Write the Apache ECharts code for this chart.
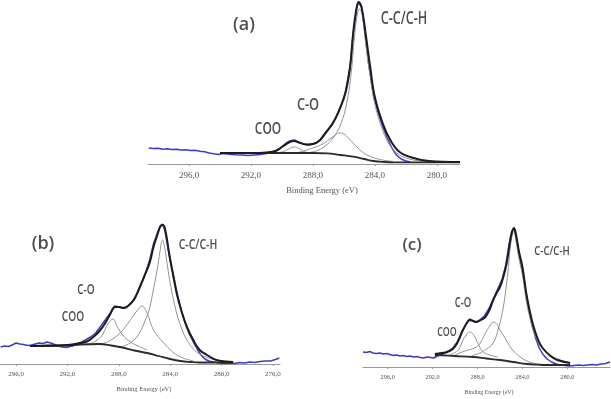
<!DOCTYPE html>
<html lang="en">
<head>
<meta charset="UTF-8">
<title>C1s XPS</title>
<script src="https://cdn.jsdelivr.net/npm/echarts@6/dist/echarts.min.js"></script>
</head>
<body style="margin:0;background:#fff">
<div id="chart" style="width:611px;height:399px"></div>
<script>
// binding energy (eV), intensity (a.u.)
var ticksA = [296, 292, 288, 284, 280];
var ticksB = [296, 292, 288, 284, 280, 276];
var ticksC = [296, 292, 288, 284, 280];

// ---- (a)
var rawA = [[298.6,16],[298.3,15.5],[298.0,15.8],[297.7,14.8],[297.4,15.2],[297.1,14.5],[296.8,14.8],[296.5,14],[296.2,14.3],[295.9,13.5],[295.6,13.8],[295.3,12.8],[295.0,12.2],[294.7,11],[294.4,10.2],[294.1,9.5],[293.8,10.5],[293.4,9.8],[293.0,9.2],[292.6,9],[292.2,8.5],[291.8,9],[291.4,9.5],[291.0,10.5],[290.6,12],[290.2,15],[289.8,20],[289.5,23],[289.2,24],[288.9,21.5],[288.6,20],[288.3,19],[288.0,20],[287.7,22],[287.4,26],[287.1,32],[286.8,39],[286.5,47],[286.2,57],[285.9,72],[285.6,97],[285.4,130],[285.2,154],[285.05,162],[284.85,157],[284.65,132],[284.4,100],[284.1,70],[283.8,52],[283.5,38],[283.2,26],[282.9,16],[282.6,9],[282.3,5],[282.0,3],[281.7,2]];
var envA = [[294.0,11],[293.0,11],[292.0,11],[291.0,11.5],[290.4,13],[289.9,18],[289.5,22],[289.2,23],[288.9,21.5],[288.4,19.5],[288.0,20],[287.6,23],[287.2,31],[286.7,41],[286.3,54],[285.9,71],[285.6,97],[285.4,131],[285.2,154],[285.05,162],[284.85,156],[284.6,131],[284.3,97],[284.0,67],[283.5,41],[283.0,24],[282.4,12],[281.5,6],[280.5,3],[278.5,2]];
var bgA = [[294.0,11],[290.0,11],[288.0,11],[287.1,10.7],[286.2,9],[285.4,7.3],[284.7,5],[284.1,3],[283.4,2],[282.8,1.7],[278.5,1.7]];
var cooA = [[290.4,11],[289.9,12.5],[289.5,15.5],[289.2,17],[288.9,15.5],[288.5,12],[288.0,11]];
var coA = [[289.0,11.5],[288.6,13],[288.0,16],[287.5,19],[286.9,25],[286.5,29.5],[286.3,31],[286.0,30],[285.7,26],[285.4,21],[284.8,12],[284.2,7],[283.5,4],[282.8,2.5]];
var ccA = [[288.5,11],[287.8,13],[287.2,18],[286.7,26],[286.2,40],[285.8,62],[285.5,95],[285.3,130],[285.1,152],[285.0,155],[284.8,148],[284.6,122],[284.3,88],[284.0,60],[283.5,34],[283.0,18],[282.4,9],[281.5,4],[280.5,2.5]];

// ---- (b)
var rawB = [[297.2,17],[296.9,18],[296.6,17.5],[296.3,19],[296.0,21],[295.7,20],[295.4,19.5],[295.1,18.5],[294.8,19],[294.5,20],[294.2,21],[293.9,20.5],[293.6,22],[293.3,21],[293.0,19.5],[292.7,18],[292.4,17],[292.1,16.5],[291.8,17.5],[291.5,18.5],[291.2,20],[290.9,22],[290.6,24],[290.2,27],[289.8,31],[289.4,38],[289.0,45],[288.6,52],[288.3,58],[288.0,57],[287.7,56],[287.4,57],[287.1,60],[286.8,64],[286.5,72],[286.2,82],[285.9,92],[285.6,104],[285.3,120],[285.0,131],[284.8,137],[284.6,140],[284.4,133],[284.2,118],[284.0,103],[283.7,86],[283.4,67],[283.1,52],[282.8,40],[282.5,30],[282.2,22],[281.9,15],[281.6,9],[281.3,5],[281.0,3],[280.6,2],[280.2,1],[279.8,0.5],[279.4,1],[279.0,0.5],[278.6,1.5],[278.2,1],[277.8,2],[277.4,1.5],[277.0,2.5],[276.6,3],[276.2,3],[275.8,4.5],[275.5,6]];
var envB = [[294.9,18],[293.5,18.5],[292.0,19],[291.0,21],[290.4,23],[289.9,28],[289.5,33],[289.1,40],[288.7,49],[288.3,57],[288.0,57],[287.6,56],[287.2,59],[286.8,65],[286.4,76],[286.0,88],[285.6,101],[285.3,117],[285.0,129],[284.75,138],[284.55,139],[284.35,132],[284.1,112],[283.8,91],[283.5,71],[283.1,52],[282.7,37],[282.2,24],[281.7,14],[281.0,8],[280.4,4],[279.7,2.5],[279.1,2]];
var bgB = [[294.9,18],[292.0,18.5],[291.0,19.5],[289.5,20],[288.6,18.5],[287.7,16.5],[286.8,13.5],[285.8,11],[284.9,8],[284.0,5],[283.2,3],[282.4,2],[281.7,1.5],[279.1,1.5]];
var cooB = [[290.3,20],[289.8,23],[289.4,27],[289.2,31],[288.8,41],[288.45,45],[288.1,37],[287.7,29],[287.1,22],[286.5,18],[285.8,14]];
var coB = [[289.5,20],[288.9,22],[287.9,31],[287.1,44],[286.6,53],[286.2,58],[285.8,51],[285.3,34],[284.5,21],[283.8,12],[283.2,7],[282.2,3]];
var ccB = [[287.8,17],[287.0,22],[286.4,31],[285.9,45],[285.6,56],[285.3,75],[285.0,95],[284.8,112],[284.6,124],[284.45,118],[284.2,97],[284.0,81],[283.5,51],[283.0,32],[282.7,24],[282.2,15],[281.7,10],[281.0,6],[280.4,4],[279.1,2]];

// ---- (c)
var rawC = [[298.2,15],[297.9,14.5],[297.6,15.5],[297.3,14],[297.0,13.5],[296.7,14],[296.4,13],[296.1,13.5],[295.8,12.5],[295.5,11.5],[295.2,12],[294.9,11],[294.6,11.5],[294.3,10.5],[294.0,11],[293.7,10],[293.4,10.5],[293.1,9.5],[292.8,9],[292.5,10],[292.2,9.5],[291.9,9],[291.6,11],[291.3,12],[291.0,13.5],[290.6,16],[290.2,19],[289.8,25],[289.4,35],[289.0,43],[288.7,48],[288.4,46],[288.1,45],[287.8,47],[287.4,51],[287.0,58],[286.6,68],[286.2,78],[285.8,88],[285.5,101],[285.2,122],[284.95,136],[284.75,138],[284.55,130],[284.3,112],[284.0,96],[283.7,75],[283.4,56],[283.1,40],[282.8,28],[282.5,19],[282.2,13],[281.8,8],[281.4,5],[281.0,3],[280.6,2],[280.2,1.5],[279.8,1],[279.4,1.5],[279.0,2],[278.6,1.5],[278.2,2],[277.8,2.5],[277.4,2],[277.0,3],[276.6,3.5],[276.2,5]];
var envC = [[291.8,13],[291.2,14],[290.7,15],[290.2,18],[289.8,24],[289.3,37],[288.9,45],[288.7,47],[288.4,46],[288.1,45],[287.7,47],[287.3,50],[286.9,58],[286.6,67],[286.3,74],[286.0,80],[285.7,90],[285.4,104],[285.15,122],[284.95,134],[284.75,139],[284.55,131],[284.3,115],[284.0,100],[283.6,70],[283.1,44],[282.6,27],[282.2,19],[281.5,11],[280.9,7],[279.75,4]];
var bgC = [[291.8,12],[290.0,11],[288.4,10],[287.2,8.5],[286.0,7],[284.8,5],[283.6,3],[282.6,2.3],[281.8,2],[279.75,2]];
var cooC = [[290.4,12.5],[290.0,14.5],[289.6,19],[289.3,27],[289.0,32],[288.7,35],[288.4,33],[288.1,27],[287.8,20],[287.5,15],[286.9,12],[286.2,10]];
var coC = [[290.0,12],[289.6,14],[289.0,16.5],[288.1,20],[287.6,27],[287.3,34],[286.9,41],[286.6,45],[286.3,43],[286.0,37],[285.6,30],[285.3,24],[284.8,16],[284.2,10],[283.6,6],[283.1,4],[282.4,2.5]];
var ccC = [[288.5,11.5],[287.8,14],[287.2,18],[286.6,24],[286.1,40],[285.7,60],[285.3,94],[285.1,118],[284.9,132],[284.75,134],[284.55,124],[284.3,108],[284.0,92],[283.5,57],[282.7,27],[281.8,14],[280.6,7],[279.75,4]];

const myChart = echarts.init(document.getElementById('chart'));

function fmt(v) { return v.toFixed(1).replace('.', ','); }

function xAxisFor(idx, min, max, ticks, fs, pad) {
    return {
        gridIndex: idx, type: 'value', inverse: true, min: min, max: max,
        name: 'Binding Energy (eV)', nameLocation: 'middle', nameGap: 22,
        nameTextStyle: { fontFamily: 'Liberation Serif', fontSize: fs - 0.5, color: '#555', padding: [0, 0, 0, pad] },
        axisLine: { lineStyle: { color: '#999', width: 1.2 } },
        axisTick: { show: true, length: 2, customValues: ticks, lineStyle: { color: '#999' } },
        axisLabel: { customValues: ticks, margin: 7, formatter: fmt, fontFamily: 'Liberation Serif', fontSize: fs, color: '#555' },
        splitLine: { show: false }
    };
}

function line(idx, data, color, width, smooth) {
    return {
        type: 'line', xAxisIndex: idx, yAxisIndex: idx, data: data,
        showSymbol: false, symbol: 'none', smooth: smooth, clip: false,
        lineStyle: { color: color, width: width }
    };
}

function panel(idx, raw, env, bg, coo, co, cc) {
    return [
        line(idx, raw, '#3b3bc6', 1.5, false),
        line(idx, coo, '#939393', 1, 0.4),
        line(idx, co, '#939393', 1, 0.4),
        line(idx, cc, '#939393', 1, 0.4),
        line(idx, bg, '#2b2b2b', 1.8, 0.4),
        line(idx, env, '#1c1c1c', 2, 0.4)
    ];
}

function txt(x, y, s, size, sx) {
    return {
        type: 'text', x: x, y: y, scaleX: sx,
        style: { text: s, fontSize: size, fontFamily: 'Open Sans', fontWeight: 600, fill: '#4d4d4d',
                 textAlign: 'center', textVerticalAlign: 'middle', align: 'center', verticalAlign: 'middle' }
    };
}

const option = {
    animation: false,
    grid: [
        { left: 148, top: 0, width: 312, height: 164 },
        { left: 0, top: 200, width: 280, height: 164 },
        { left: 363, top: 203, width: 247, height: 164 }
    ],
    xAxis: [
        xAxisFor(0, 278.5, 298.65, ticksA, 9, 36),
        xAxisFor(1, 275.45, 297.25, ticksB, 7, 8),
        xAxisFor(2, 276.2, 298.2, ticksC, 6.3, 5)
    ],
    yAxis: [
        { gridIndex: 0, show: false, min: 0, max: 164 },
        { gridIndex: 1, show: false, min: 0, max: 164 },
        { gridIndex: 2, show: false, min: 0, max: 164 }
    ],
    series: [].concat(
        panel(0, rawA, envA, bgA, cooA, coA, ccA),
        panel(1, rawB, envB, bgB, cooB, coB, ccB),
        panel(2, rawC, envC, bgC, cooC, coC, ccC)
    ),
    graphic: [
        txt(244, 25, '(a)', 18, 1),
        txt(404, 19, 'C-C/C-H', 18, 0.7),
        txt(308, 105, 'C-O', 17, 0.75),
        txt(268, 129, 'COO', 17, 0.7),
        txt(43, 244, '(b)', 18, 1),
        txt(198, 245, 'C-C/C-H', 14, 0.75),
        txt(86, 290, 'C-O', 14, 0.72),
        txt(73, 317, 'COO', 14, 0.72),
        txt(412, 245, '(c)', 17, 1),
        txt(552, 251, 'C-C/C-H', 12.5, 0.77),
        txt(463, 303, 'C-O', 14, 0.68),
        txt(447, 332, 'COO', 13, 0.68)
    ]
};

myChart.setOption(option);
</script>
</body>
</html>
